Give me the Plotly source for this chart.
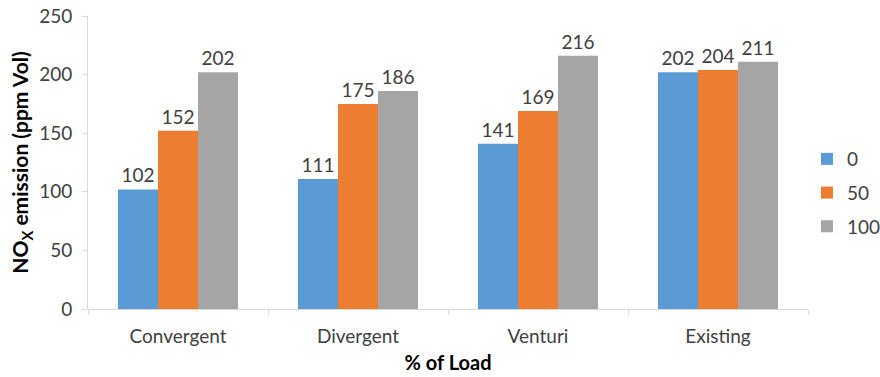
import plotly.graph_objects as go

categories = ["Convergent", "Divergent", "Venturi", "Existing"]
series_names = ["0", "50", "100"]
load_0 = [102, 111, 141, 202]
load_50 = [152, 175, 169, 204]
load_100 = [202, 186, 216, 211]
colors = ["#5B9BD5", "#ED7D31", "#A5A5A5"]
y_ticks = [0, 50, 100, 150, 200, 250]

font_family = "Lato, Open Sans, sans-serif"
text_color = "#404040"
fs = 19

fig = go.Figure()
for i, (name, vals) in enumerate(zip(series_names, [load_0, load_50, load_100])):
    fig.add_trace(go.Bar(
        x=categories, y=vals, name=name,
        marker=dict(color=colors[i], line=dict(width=0)),
        text=[str(v) for v in vals], textposition="outside",
        textfont=dict(size=fs, color=text_color, family=font_family),
        cliponaxis=False, legendgroup=name,
    ))

fig.update_layout(
    barmode="group", bargap=0.333, bargroupgap=0,
    width=880, height=377,
    margin=dict(l=88, r=72, t=16, b=68, autoexpand=False),
    plot_bgcolor="white", paper_bgcolor="white",
    font=dict(family=font_family, size=fs, color=text_color),
    showlegend=True,
    legend=dict(xref="container", yref="container", x=0.917, y=0.488,
                xanchor="left", yanchor="middle",
                font=dict(size=fs, color=text_color), tracegroupgap=6,
                itemwidth=30),
)
fig.update_yaxes(
    range=[0, 250], tickvals=y_ticks, showgrid=False,
    showline=True, linecolor="#D9D9D9", linewidth=1,
    ticks="outside", ticklen=5, tickcolor="#D9D9D9", ticklabelstandoff=6,
    tickfont=dict(size=fs, color=text_color),
    title=dict(text="<b>NO<sub>X</sub> emission (ppm Vol)</b>",
               font=dict(size=21, color="#000000", family=font_family), standoff=4),
    zeroline=False,
)
fig.update_xaxes(
    showgrid=False, showline=True, linecolor="#D9D9D9", linewidth=1,
    ticks="outside", ticklen=5, tickcolor="#D9D9D9", tickson="boundaries",
    ticklabelstandoff=10,
    tickfont=dict(size=fs, color=text_color),
    title=dict(text="<b>% of Load</b>", font=dict(size=20, color="#000000"), standoff=10),
)
fig.write_html("out.html")
